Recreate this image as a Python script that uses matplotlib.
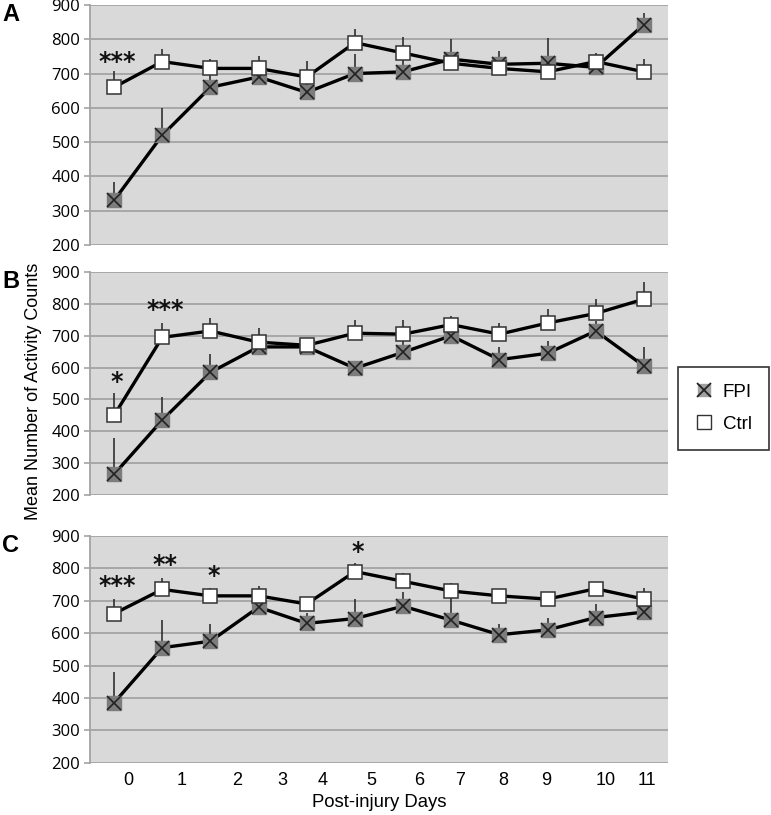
import matplotlib
matplotlib.use("Agg")
import matplotlib.pyplot as plt
from matplotlib.lines import Line2D

days = list(range(12))

# Panel A
fpi_a = [330, 520, 660, 690, 645, 700, 705, 742, 727, 730, 718, 843]
fpi_a_err = [55, 80, 45, 20, 25, 56, 40, 60, 40, 73, 15, 35]
ctrl_a = [660, 735, 715, 715, 690, 790, 760, 730, 715, 705, 735, 705]
ctrl_a_err = [48, 37, 27, 35, 47, 40, 47, 15, 15, 15, 25, 38]

# Panel B
fpi_b = [265, 435, 585, 665, 665, 598, 648, 700, 625, 645, 715, 605]
fpi_b_err = [115, 72, 58, 20, 20, 20, 40, 20, 40, 40, 30, 60]
ctrl_b = [450, 695, 715, 680, 670, 708, 705, 735, 705, 740, 770, 815]
ctrl_b_err = [70, 45, 42, 43, 20, 43, 44, 28, 34, 43, 44, 53]

# Panel C
fpi_c = [385, 555, 575, 680, 630, 645, 683, 640, 595, 610, 648, 665]
fpi_c_err = [96, 86, 53, 20, 33, 60, 45, 85, 33, 36, 42, 20]
ctrl_c = [660, 735, 715, 715, 690, 790, 760, 730, 715, 705, 737, 705]
ctrl_c_err = [45, 36, 25, 30, 20, 26, 27, 26, 15, 15, 15, 35]

# significance markers: (day index, y value, text)
sig_a = [(0, 735, "***")]
sig_b = [(0, 555, "*"), (1, 780, "***")]
sig_c = [(0, 745, "***"), (1, 810, "**"), (2, 775, "*"), (5, 850, "*")]

yticks = [200, 300, 400, 500, 600, 700, 800, 900]
xtick_labels = ["0", "1", "2", "3", "4", "5", "6", "7", "8", "9", "10", "11"]
xtick_pos = [0.29, 1.41, 2.55, 3.50, 4.33, 5.35, 6.33, 7.18, 8.09, 8.98, 10.21, 11.06]

panels = [
    ("A", fpi_a, fpi_a_err, ctrl_a, ctrl_a_err, sig_a),
    ("B", fpi_b, fpi_b_err, ctrl_b, ctrl_b_err, sig_b),
    ("C", fpi_c, fpi_c_err, ctrl_c, ctrl_c_err, sig_c),
]

rects = [
    [0.1167, 0.6994, 0.7497, 0.2945],
    [0.1167, 0.3926, 0.7497, 0.2736],
    [0.1167, 0.0642, 0.7497, 0.2782],
]

FONT = "Liberation Sans"
TICKFONT = "Open Sans"
fig = plt.figure(figsize=(7.71, 8.15), dpi=100)

for (letter, fpi, fpi_err, ctrl, ctrl_err, sig), rect in zip(panels, rects):
    ax = fig.add_axes(rect)
    ax.set_facecolor("#d9d9d9")
    ax.set_xlim(-0.5, 11.5)
    ax.set_ylim(200, 900)
    ax.set_yticks(yticks)
    ax.set_yticklabels([str(v) for v in yticks], fontname=TICKFONT, fontsize=12)
    for v in yticks:
        ax.axhline(v, color="#a3a3a3", lw=1.3, zorder=1)
    for s in ["top", "right", "bottom"]:
        ax.spines[s].set_visible(False)
    ax.spines["left"].set_color("#a3a3a3")
    ax.spines["left"].set_linewidth(1.3)
    ax.tick_params(axis="y", length=4, width=1.2, color="#a3a3a3", pad=3)
    ax.tick_params(axis="x", length=0)
    ax.set_xticks([])

    # error bars (upper only)
    ax.vlines(days, fpi, [v + e for v, e in zip(fpi, fpi_err)], color="#222222", lw=1.1, zorder=2)
    ax.vlines(days, ctrl, [v + e for v, e in zip(ctrl, ctrl_err)], color="#222222", lw=1.1, zorder=2)

    # lines
    ax.plot(days, fpi, color="black", lw=2.4, zorder=3)
    ax.plot(days, ctrl, color="black", lw=2.4, zorder=3)
    # FPI markers: gray square with X
    ax.plot(days, fpi, ls="none", marker="s", ms=9.5, mfc="#7c7c7c", mec="#7c7c7c", zorder=4)
    ax.plot(days, fpi, ls="none", marker="x", ms=10, mew=1.2, color="#222222", zorder=5)
    # Ctrl markers
    ax.plot(days, ctrl, ls="none", marker="s", ms=10, mfc="white", mec="#333333", mew=1.1, zorder=6)

    for d, yv, txt in sig:
        ax.text(d + 0.06, yv, txt, ha="center", va="center", fontsize=17,
                fontname="DejaVu Sans", fontweight="bold", color="#111111", zorder=7)

    ax.text(-0.137, 1.01, letter, transform=ax.transAxes,
            fontsize=17, fontweight="bold", fontname=FONT, ha="center", va="top")

    if letter == "C":
        for xp, lab in zip(xtick_pos, xtick_labels):
            ax.text(xp, 200 - 30, lab, ha="center", va="top", fontsize=13, fontname=FONT)
        ax.text(0.5, -0.14, "Post-injury Days", transform=ax.transAxes, ha="center",
                va="top", fontsize=13.3, fontname=FONT)

fig.text(0.043, 0.52, "Mean Number of Activity Counts", rotation=90, ha="center",
         va="center", fontsize=13, fontname=FONT)

handles = [
    (Line2D([], [], ls="none", marker="s", ms=9, mfc="#a0a0a0", mec="#a0a0a0"),
     Line2D([], [], ls="none", marker="x", ms=10, mew=1.3, color="#222222")),
    Line2D([], [], ls="none", marker="s", ms=9.5, mfc="white", mec="#333333", mew=1.0),
]
leg = fig.legend(handles, ["FPI", "Ctrl"], loc="center", bbox_to_anchor=(0.938, 0.499),
                 frameon=True, fancybox=False, edgecolor="black",
                 prop={"family": FONT, "size": 13.5}, handlelength=1.0, handletextpad=0.5,
                 borderpad=0.9, labelspacing=0.8)
leg.get_frame().set_linewidth(1.2)

fig.savefig("out.png", dpi=100)
